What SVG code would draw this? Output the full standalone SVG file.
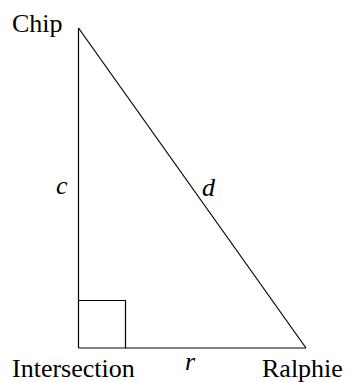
<svg xmlns="http://www.w3.org/2000/svg" width="352" height="382" viewBox="0 0 352 382">
<rect width="352" height="382" fill="#fff"/>
<g id="connectors" stroke="#000" stroke-width="1.2" fill="none">
<line x1="78.5" y1="28" x2="78.5" y2="348"/>
<line x1="78.5" y1="348" x2="306" y2="348"/>
<line x1="78.5" y1="28" x2="306" y2="348"/>
<polyline points="78.5,300.5 125.5,300.5 125.5,348"/>
</g>
<g id="chip"><text font-family="serif" font-size="26" x="12" y="32">Chip</text></g>
<g id="intersection"><text font-family="serif" font-size="26" x="12" y="377">Intersection</text></g>
<g id="ralphie"><text font-family="serif" font-size="26" x="262" y="377">Ralphie</text></g>
<g id="labels" font-family="serif" font-size="26" font-style="italic">
<text x="56" y="194">c</text>
<text x="202" y="196">d</text>
<text x="185" y="370">r</text>
</g>
</svg>
